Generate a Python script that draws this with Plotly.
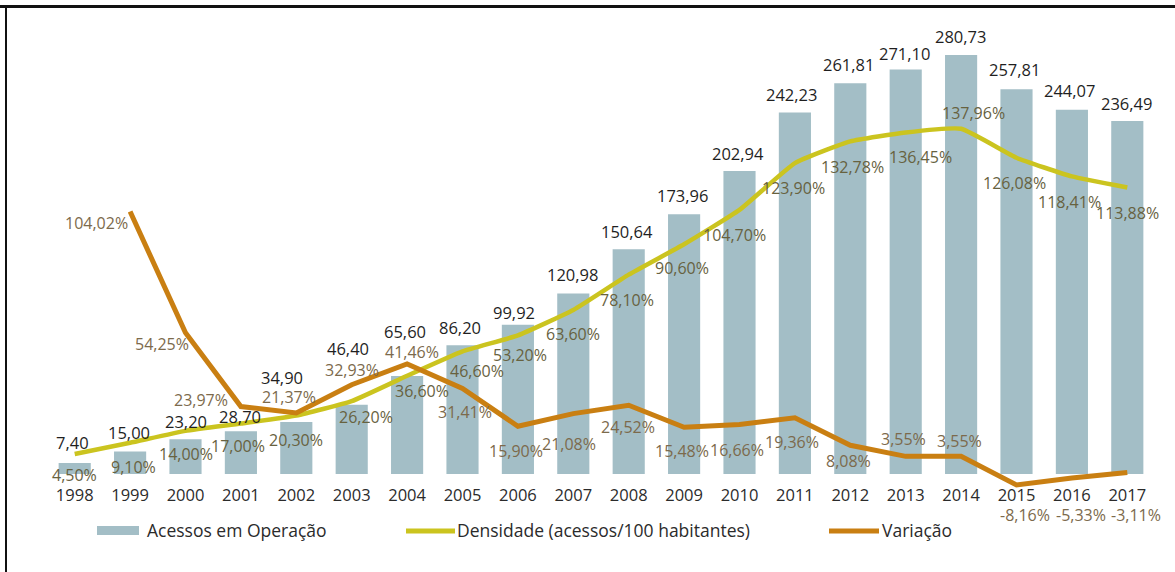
import plotly.graph_objects as go

# ---- data -------------------------------------------------------------
years = [str(y) for y in range(1998, 2018)]

acessos = [7.40, 15.00, 23.20, 28.70, 34.90, 46.40, 65.60, 86.20, 99.92, 120.98,
           150.64, 173.96, 202.94, 242.23, 261.81, 271.10, 280.73, 257.81, 244.07, 236.49]

densidade = [4.50, 9.10, 14.00, 17.00, 20.30, 26.20, 36.60, 46.60, 53.20, 63.60,
             78.10, 90.60, 104.70, 123.90, 132.78, 136.45, 137.96, 126.08, 118.41, 113.88]

variacao = [None, 104.02, 54.25, 23.97, 21.37, 32.93, 41.46, 31.41, 15.90, 21.08,
            24.52, 15.48, 16.66, 19.36, 8.08, 3.55, 3.55, -8.16, -5.33, -3.11]

legend_names = ["Acessos em Operação", "Densidade (acessos/100 habitantes)", "Variação"]
title_text = "EVOLUÇÃO DOS ACESSOS MÓVEIS E DA DENSIDADE (DEZEMBRO DE 2017)"

# ---- label placement (pixel nudges relative to each mark) ----------------
bar_lbl_dx = [-2, -1, 0, -1, -14, -4, -2, -3, -4, -1, -2, -2, -2, -3, -2, -1, -1, -2, -2, -1]
bar_lbl_up = [20, 19, 18, 15, 44, 56, 45, 18, 12, 19, 18, 19, 18, 18, 19, 16, 19, 20, 19, 18]

den_lbl_dx = [0, 3, 0, -3, 0, 14, 15, 14, 2, 0, -2, -2, -5, -1, 2, 15, 12, -2, -2, 0]
den_lbl_dn = [21, 24, 23, 22, 24, 16, 15, 20, 20, 24, 25, 24, 25, 25, 26, 25, -16, 25, 26, 26]

var_lbl_dx = [0, -34, -24, -40, -7, 0, 5, 2, -2, -4, -1, -2, -3, -3, -2, -2, -2, 8, 9, 9]
var_lbl_dn = [0, 11, 11, -7, -16, -15, -12, 24, 25, 30, 22, 24, 26, 24, 16, -17, -15, 30, 37, 42]

# ---- styling -----------------------------------------------------------
W, H = 1175, 572
ML, MR, MT, MB = 47, 20, 20, 82
BAR_C = "#a3bec6"
DEN_C = "#cbc41f"
VAR_C = "#c97f12"
DEN_TXT = "#67623f"
VAR_TXT = "#7c6a4c"
DARK = "#1f1f1f"
FONT = "Open Sans"

PW = W - ML - MR
PH = H - MT - MB


def px_x(p):
    return (p - ML) / PW


def px_y(p):
    return (H - MB - p) / PH


def fmt(v, pct=False):
    s = f"{v:.2f}".replace(".", ",")
    return s + "%" if pct else s


fig = go.Figure()

fig.add_trace(go.Bar(x=years, y=acessos, marker=dict(color=BAR_C, line=dict(width=0)),
                     name=legend_names[0], showlegend=False, hoverinfo="skip"))
fig.add_trace(go.Scatter(x=years, y=densidade, yaxis="y2", mode="lines",
                         line=dict(color=DEN_C, width=4.5, shape="spline", smoothing=0.4),
                         name=legend_names[1], showlegend=False, hoverinfo="skip"))
fig.add_trace(go.Scatter(x=years, y=variacao, yaxis="y2", mode="lines",
                         line=dict(color=VAR_C, width=5),
                         name=legend_names[2], showlegend=False, hoverinfo="skip"))

# annotations on a category axis take the category index as x
ann = []
for i in range(len(years)):
    ann.append(dict(x=i, y=acessos[i], xref="x", yref="y", text=fmt(acessos[i]),
                    showarrow=False, xanchor="center", yanchor="middle",
                    xshift=bar_lbl_dx[i], yshift=bar_lbl_up[i],
                    font=dict(family=FONT, size=16.5, color=DARK)))
    ann.append(dict(x=i, y=densidade[i], xref="x", yref="y2", text=fmt(densidade[i], True),
                    showarrow=False, xanchor="center", yanchor="middle",
                    xshift=den_lbl_dx[i], yshift=-den_lbl_dn[i],
                    font=dict(family=FONT, size=16, color=DEN_TXT)))
    if variacao[i] is not None:
        ann.append(dict(x=i, y=variacao[i], xref="x", yref="y2", text=fmt(variacao[i], True),
                        showarrow=False, xanchor="center", yanchor="middle",
                        xshift=var_lbl_dx[i], yshift=-var_lbl_dn[i],
                        font=dict(family=FONT, size=16, color=VAR_TXT)))

# legend drawn as swatches + text
shapes = [
    dict(type="rect", xref="paper", yref="paper", x0=px_x(97), x1=px_x(139),
         y0=px_y(535), y1=px_y(526), fillcolor=BAR_C, line=dict(width=0)),
    dict(type="line", xref="paper", yref="paper", x0=px_x(406), x1=px_x(455),
         y0=px_y(531), y1=px_y(531), line=dict(color=DEN_C, width=5)),
    dict(type="line", xref="paper", yref="paper", x0=px_x(829), x1=px_x(879),
         y0=px_y(531), y1=px_y(531), line=dict(color=VAR_C, width=5)),
    # frame
    dict(type="line", xref="paper", yref="paper", x0=px_x(0), x1=px_x(W),
         y0=px_y(6.5), y1=px_y(6.5), line=dict(color="#111", width=3)),
    dict(type="line", xref="paper", yref="paper", x0=px_x(6), x1=px_x(6),
         y0=px_y(6), y1=px_y(H), line=dict(color="#111", width=2)),
]
for left, txt in zip([145, 455, 880], legend_names):
    ann.append(dict(x=px_x(left), y=px_y(530), xref="paper", yref="paper", text=txt,
                    showarrow=False, xanchor="left", yanchor="middle",
                    font=dict(family=FONT, size=17.5, color="#2b2b2b")))

ann.append(dict(x=px_x(425), y=px_y(0), xref="paper", yref="paper", text=f"<b>{title_text}</b>",
                showarrow=False, xanchor="left", yanchor="bottom",
                font=dict(family="Liberation Sans", size=14.5, color="#000")))

fig.update_layout(
    width=W, height=H,
    margin=dict(l=ML, r=MR, t=MT, b=MB),
    paper_bgcolor="white", plot_bgcolor="white",
    bargap=0.42,
    showlegend=False,
    annotations=ann,
    shapes=shapes,
    xaxis=dict(type="category", range=[-0.5, len(years) - 0.5], showgrid=False,
               zeroline=False, showline=False, ticks="", ticklabelstandoff=-7,
               tickfont=dict(family=FONT, size=16.5, color="#2b2b2b")),
    yaxis=dict(range=[-16 / 1.4925, (474 - MT) / 1.4925], visible=False, showgrid=False),
    yaxis2=dict(range=[-(H - MB - 465) / 2.437, (465 - MT) / 2.437], overlaying="y",
                visible=False, showgrid=False),
)

fig.write_html("out.html")
